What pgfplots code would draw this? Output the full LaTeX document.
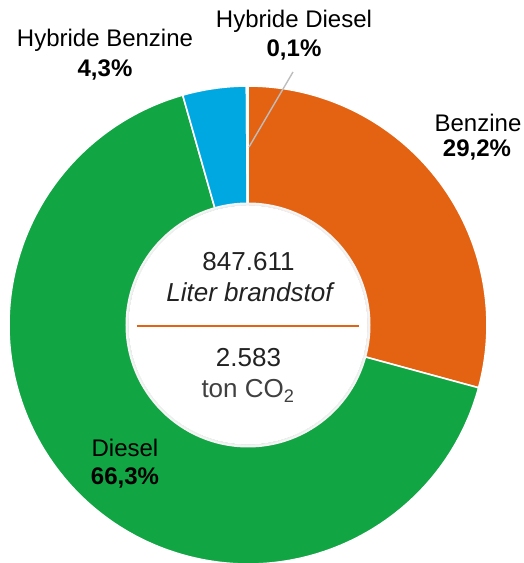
\documentclass[border=0pt]{standalone}
\usepackage{fontspec}
\setmainfont{Liberation Sans}
\usepackage{pgfplots}
\usepackage{pgfplotstable}
\pgfplotsset{compat=1.18}
\definecolor{cOrange}{HTML}{E46312}
\definecolor{cGreen}{HTML}{11A544}
\definecolor{cBlue}{HTML}{00A8E2}
\definecolor{cGray}{HTML}{BDBDBD}
\definecolor{cText}{HTML}{222222}
\pgfplotstableread{
share
29.2
66.3
4.3
0.1
}\sharetable
\begin{document}
\begin{tikzpicture}
\pgfplotstablegetelem{0}{share}\of\sharetable \let\sA\pgfplotsretval
\pgfplotstablegetelem{1}{share}\of\sharetable \let\sB\pgfplotsretval
\pgfplotstablegetelem{2}{share}\of\sharetable \let\sC\pgfplotsretval
\pgfplotstablegetelem{3}{share}\of\sharetable \let\sD\pgfplotsretval
\pgfmathsetmacro{\tot}{\sA+\sB+\sC+\sD}
\pgfmathsetmacro{\kk}{360/\tot}
\pgfmathsetmacro{\aO}{90}
\pgfmathsetmacro{\aA}{90-\kk*\sA}
\pgfmathsetmacro{\aB}{\aA-\kk*\sB}
\pgfmathsetmacro{\aC}{\aB-\kk*\sC}
\pgfmathsetmacro{\aD}{\aC-\kk*\sD}
\begin{axis}[x=1pt,y=1pt,xmin=0,xmax=524,ymin=0,ymax=563,hide axis,clip=false,scale only axis,xtick=\empty,ytick=\empty]
\coordinate (BL) at (axis cs:0,0);
\coordinate (TR) at (axis cs:524,563);
% wedges
\fill[cOrange,draw=white,line width=1.6pt] (axis cs:248,238) -- ++(\aO:239) arc[start angle=\aO,end angle=\aA,radius=239] -- cycle;
\fill[cGreen,draw=white,line width=1.6pt] (axis cs:248,238) -- ++(\aA:239) arc[start angle=\aA,end angle=\aB,radius=239] -- cycle;
\fill[cBlue,draw=white,line width=1.6pt] (axis cs:248,238) -- ++(\aB:239) arc[start angle=\aB,end angle=\aC,radius=239] -- cycle;
\fill[cGray,draw=white,line width=1.6pt] (axis cs:248,238) -- ++(\aC:239) arc[start angle=\aC,end angle=\aD,radius=239] -- cycle;
% inner hole with soft edge
\draw[black!4,line width=3pt] (axis cs:248,238) circle[radius=121];
\draw[black!7,line width=1pt] (axis cs:248,238) circle[radius=120];
\fill[white] (axis cs:248,238) circle[radius=119.5];
% leader line
\draw[cGray,line width=1.4pt] (axis cs:293,491) -- (axis cs:249,416);
% center texts
\draw[cOrange,line width=1.5pt] (axis cs:137,237) -- (axis cs:359,237);
\node[anchor=base,font=\fontsize{26}{30}\selectfont,text=cText,inner sep=0] at (axis cs:248.5,292) {847.611};
\node[anchor=base,font=\fontsize{26}{30}\selectfont\itshape,text=cText,inner sep=0] at (axis cs:249.5,261) {Liter brandstof};
\node[anchor=base,font=\fontsize{26}{30}\selectfont,text=cText,inner sep=0] at (axis cs:248.5,196) {2.583};
\node[anchor=base,font=\fontsize{26}{30}\selectfont,text=black!75,inner sep=0] at (axis cs:248,165) {ton CO\textsubscript{2}};
% labels
\node[anchor=base,font=\fontsize{24}{28}\selectfont,inner sep=0] at (axis cs:294,535) {Hybride Diesel};
\node[anchor=base,font=\fontsize{24}{28}\selectfont\bfseries,inner sep=0] at (axis cs:294,506) {0,1\%};
\node[anchor=base,font=\fontsize{24}{28}\selectfont,inner sep=0] at (axis cs:105,516) {Hybride Benzine};
\node[anchor=base,font=\fontsize{24}{28}\selectfont\bfseries,inner sep=0] at (axis cs:105,486) {4,3\%};
\node[anchor=base,font=\fontsize{24}{28}\selectfont,inner sep=0] at (axis cs:478,431) {Benzine};
\node[anchor=base,font=\fontsize{24}{28}\selectfont\bfseries,inner sep=0] at (axis cs:477,406) {29,2\%};
\node[anchor=base,font=\fontsize{24}{28}\selectfont,inner sep=0] at (axis cs:125,106) {Diesel};
\node[anchor=base,font=\fontsize{24}{28}\selectfont\bfseries,inner sep=0] at (axis cs:125,78) {66,3\%};
\end{axis}
\pgfresetboundingbox
\path[use as bounding box] (BL) rectangle (TR);
\end{tikzpicture}
\end{document}
